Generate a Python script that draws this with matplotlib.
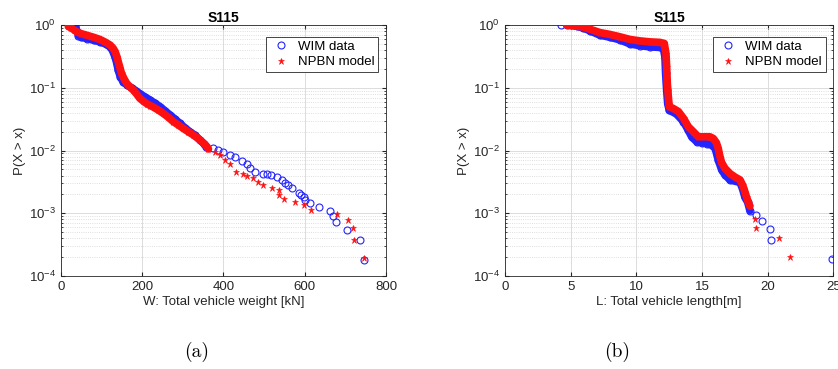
import numpy as np
import matplotlib.pyplot as plt
from matplotlib.ticker import LogLocator, NullFormatter

plt.rcParams['font.family'] = ['Liberation Sans', 'DejaVu Sans']

# ---- (a) total vehicle weight: dense body of the CCDF + sparse tail
w_wim_body_x = [30, 35, 38, 43, 50, 63, 80, 96, 110, 121, 127, 133, 137, 141, 146, 153, 163, 174,
                184, 194, 206, 219, 231, 244, 256, 268, 280, 293, 305, 317, 330, 342, 352, 358]
w_wim_body_p = [0.99, 0.98, 0.85, 0.68, 0.64, 0.61, 0.575, 0.54, 0.5, 0.45, 0.39, 0.31, 0.25, 0.19,
                0.15, 0.125, 0.11, 0.10, 0.09, 0.081, 0.072, 0.064, 0.057, 0.050, 0.043, 0.037,
                0.032, 0.027, 0.023, 0.020, 0.0175, 0.0147, 0.0128, 0.0115]
w_wim_tail_x = [375, 387, 400, 416, 428, 445, 457, 465, 477, 498, 506, 518, 531, 543, 551, 560, 568,
                586, 592, 598, 600, 613, 636, 662, 670, 678, 705, 736, 747]
w_wim_tail_p = [0.0108, 0.0102, 0.0096, 0.0085, 0.0080, 0.0069, 0.0061, 0.0052, 0.0046, 0.0043,
                0.0043, 0.0041, 0.0038, 0.0034, 0.0030, 0.0028, 0.0025, 0.0021, 0.00195, 0.00184,
                0.00163, 0.00144, 0.00124, 0.00109, 0.00090, 0.00073, 0.00054, 0.00037, 0.00018]

w_npbn_body_x = [18, 25, 32, 39, 50, 63, 80, 96, 110, 121, 128, 133, 138, 141, 145, 149, 155, 162,
                 170, 178, 186, 194, 203, 211, 220, 228, 240, 252, 264, 276, 289, 301, 313, 326,
                 334, 342, 350, 358, 363]
w_npbn_body_p = [0.95, 0.9, 0.84, 0.78, 0.73, 0.69, 0.64, 0.59, 0.53, 0.48, 0.43, 0.38, 0.31, 0.26,
                 0.21, 0.17, 0.14, 0.117, 0.103, 0.092, 0.08, 0.068, 0.061, 0.056, 0.052, 0.049,
                 0.044, 0.039, 0.034, 0.029, 0.0255, 0.0225, 0.020, 0.0177, 0.0162, 0.0147,
                 0.0133, 0.0118, 0.0106]
w_npbn_tail_x = [379, 391, 404, 416, 431, 449, 457, 473, 486, 498, 519, 537, 537, 549, 576, 598,
                 615, 680, 706, 719, 721, 746]
w_npbn_tail_p = [0.0096, 0.0085, 0.0072, 0.0062, 0.0045, 0.0042, 0.0040, 0.0036, 0.0032, 0.0028,
                 0.0025, 0.00234, 0.00195, 0.00169, 0.00153, 0.00135, 0.00113, 0.00096, 0.00078,
                 0.00058, 0.00038, 0.000196]

# ---- (b) total vehicle length
l_wim_body_x = [4.7, 5.46, 5.96, 6.47, 7.23, 7.99, 8.76, 9.52, 10.28, 11.04, 11.8, 12.06, 12.18,
                12.23, 12.31, 12.39, 12.51, 13.07, 13.58, 13.96, 14.21, 14.6, 14.97, 15.36, 15.74,
                16.0, 16.12, 16.24, 16.5, 16.75, 17.13, 17.9, 18.1, 18.27, 18.48, 18.65]
l_wim_body_p = [1.0, 0.96, 0.9, 0.81, 0.69, 0.64, 0.58, 0.5, 0.47, 0.45, 0.44, 0.43, 0.31, 0.17,
                0.092, 0.056, 0.044, 0.038, 0.029, 0.021, 0.0166, 0.0138, 0.0133, 0.0129, 0.0122,
                0.0108, 0.0088, 0.0071, 0.0049, 0.0041, 0.0034, 0.0031, 0.0024, 0.0018, 0.0015,
                0.0011]
l_wim_tail_x = [4.26, 19.11, 19.54, 20.18, 20.23, 24.87]
l_wim_tail_p = [1.0, 0.00093, 0.00075, 0.00056, 0.00037, 0.00019]

l_npbn_body_x = [4.7, 5.46, 5.96, 6.47, 7.23, 7.99, 8.76, 9.52, 10.28, 11.04, 11.8, 12.13, 12.26,
                 12.31, 12.36, 12.44, 12.51, 12.8, 13.2, 13.6, 13.96, 14.34, 14.72, 15.2, 15.6,
                 15.86, 16.1, 16.24, 16.37, 16.5, 16.75, 17.13, 17.5, 17.9, 18.1, 18.27, 18.4,
                 18.53, 18.65]
l_npbn_body_p = [1.0, 0.97, 0.93, 0.86, 0.76, 0.71, 0.65, 0.59, 0.56, 0.54, 0.53, 0.51, 0.35,
                 0.217, 0.118, 0.072, 0.050, 0.047, 0.042, 0.0325, 0.024, 0.020, 0.0166, 0.0166,
                 0.0166, 0.0156, 0.0133, 0.0108, 0.008, 0.0064, 0.0052, 0.0043, 0.0038, 0.0034,
                 0.0028, 0.0022, 0.0018, 0.0015, 0.0013]
l_npbn_tail_x = [19.04, 19.11, 20.86, 21.7]
l_npbn_tail_p = [0.00081, 0.00059, 0.00041, 0.0002]

titles = ["S115", "S115"]
xlabels = ["W: Total vehicle weight [kN]", "L: Total vehicle length[m]"]
captions = ["(a)", "(b)"]
legend_labels = ["WIM data", "NPBN model"]

BLUE = '#2424ff'
RED = '#ff1010'

fig = plt.figure(figsize=(8.38, 3.69), dpi=100)
ax_a = fig.add_axes([0.0728, 0.252, 0.3878, 0.680])
ax_b = fig.add_axes([0.6026, 0.252, 0.3918, 0.680])

panels = [
    (ax_a, (w_wim_body_x, w_wim_body_p, w_wim_tail_x, w_wim_tail_p),
     (w_npbn_body_x, w_npbn_body_p, w_npbn_tail_x, w_npbn_tail_p),
     (0, 800), [0, 200, 400, 600, 800]),
    (ax_b, (l_wim_body_x, l_wim_body_p, l_wim_tail_x, l_wim_tail_p),
     (l_npbn_body_x, l_npbn_body_p, l_npbn_tail_x, l_npbn_tail_p),
     (0, 25), [0, 5, 10, 15, 20, 25]),
]

for i, (ax, wim, npbn, xlim, xticks) in enumerate(panels):
    bx, bp, tx, tp = wim
    ax.plot(bx, bp, color=BLUE, lw=5.5, solid_capstyle='round', solid_joinstyle='round', zorder=2)
    ax.plot(bx + tx, bp + tp, ls='none', marker='o', ms=5, mfc='none', mec=BLUE, mew=0.8,
            zorder=2, label=legend_labels[0])
    bx, bp, tx, tp = npbn
    ax.plot(bx, bp, color=RED, lw=5.5, solid_capstyle='round', solid_joinstyle='round', zorder=3)
    ax.plot(bx + tx, bp + tp, ls='none', marker='*', ms=4.5, color=RED, mew=0.4,
            zorder=3, label=legend_labels[1])

    ax.set_yscale('log')
    ax.set_ylim(1e-4, 1.0)
    ax.set_xlim(*xlim)
    ax.set_xticks(xticks)
    ax.set_yticks([1e-4, 1e-3, 1e-2, 1e-1, 1e0])
    ax.yaxis.set_minor_locator(LogLocator(base=10, subs=np.arange(2, 10)))
    ax.yaxis.set_minor_formatter(NullFormatter())

    ax.grid(True, which='major', axis='both', color='#dcdcdc', lw=0.7, ls='-')
    ax.grid(True, which='minor', axis='y', color='#d4d4d4', lw=0.6, ls=':')
    ax.set_axisbelow(True)

    for s in ax.spines.values():
        s.set_color('#262626')
        s.set_linewidth(0.6)
    ax.tick_params(which='both', direction='in', top=True, right=True, colors='#262626',
                   labelsize=9.5, labelcolor='#262626')
    ax.tick_params(which='major', length=3)
    ax.tick_params(which='minor', length=1.5)

    ax.set_title(titles[i], fontsize=10, fontweight='bold', pad=2)
    ax.set_xlabel(xlabels[i], fontsize=9.5, color='#262626', labelpad=2)
    ax.set_ylabel('P(X > x)', fontsize=9.5, color='#262626', labelpad=2)

    leg = ax.legend(loc='upper right', bbox_to_anchor=(0.985, 0.965), fontsize=9.5,
                    frameon=True, fancybox=False, framealpha=1, edgecolor='#262626',
                    borderpad=0.3, handletextpad=0.5, handlelength=1.6, labelspacing=0.25,
                    borderaxespad=0.2)
    leg.get_frame().set_linewidth(0.6)

fig.text(0.235, 0.045, captions[0], fontsize=14, family='cmr10', ha='center', va='center')
fig.text(0.737, 0.045, captions[1], fontsize=14, family='cmr10', ha='center', va='center')

fig.savefig('out.png', dpi=100)
